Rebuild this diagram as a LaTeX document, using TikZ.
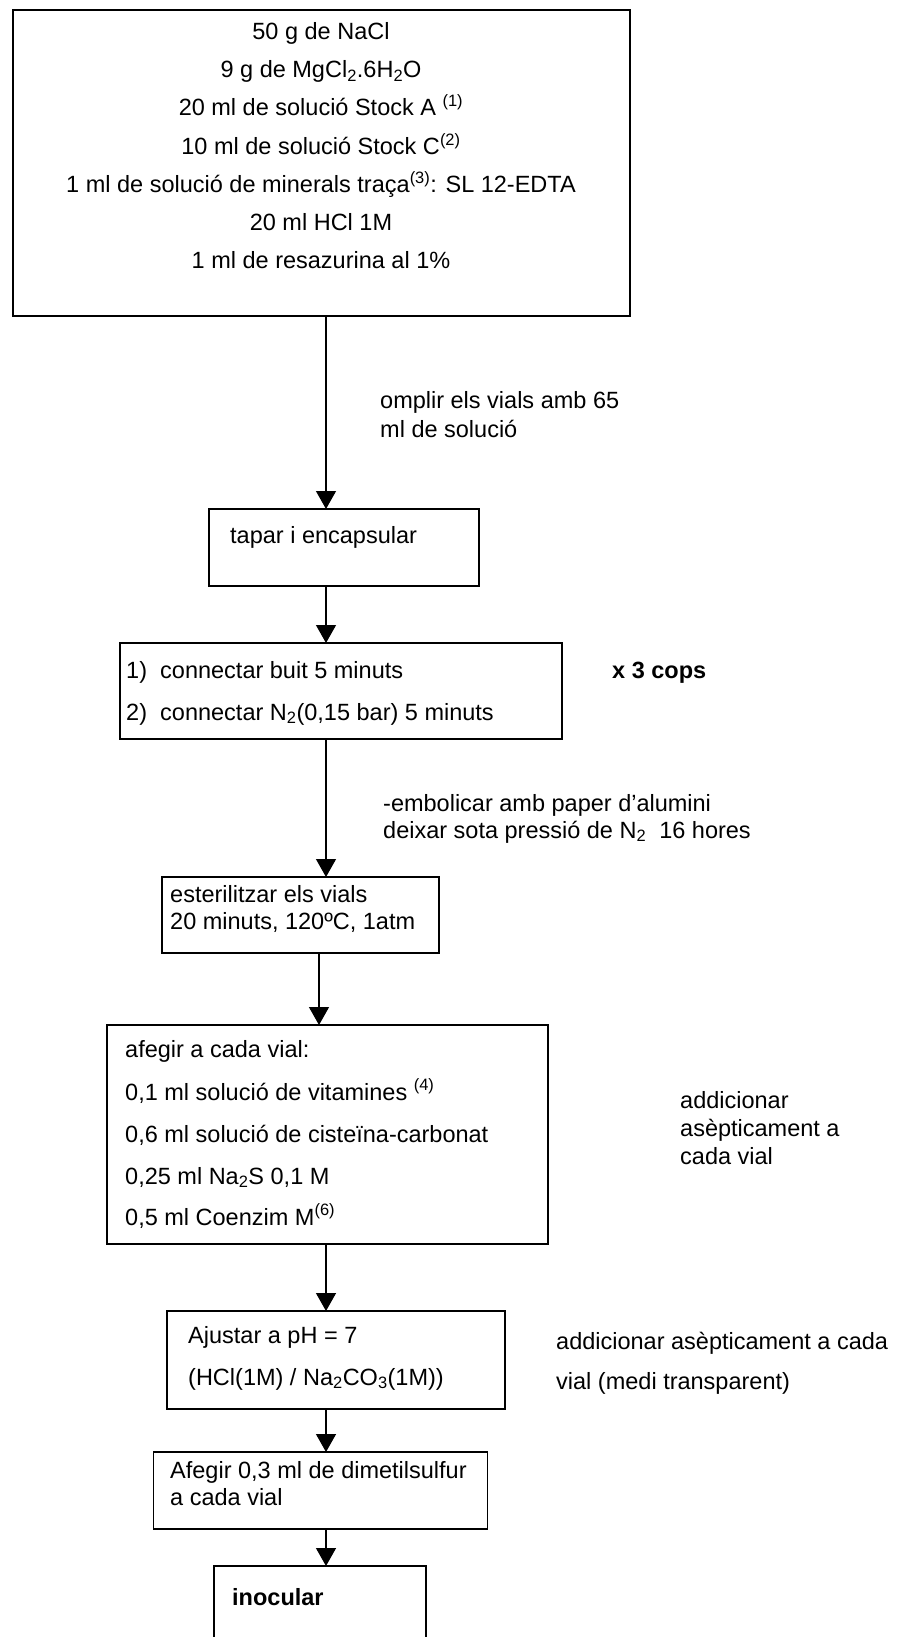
\documentclass[tikz,border=0pt]{standalone}
\usepackage{fontspec}
\setmainfont{Liberation Sans}
\usetikzlibrary{arrows.meta}
\begin{document}
\begin{tikzpicture}[x=1pt,y=-1pt,
  box/.style={draw, line width=1.6pt, inner sep=0pt, outer sep=0pt},
  arr/.style={line width=1.3pt, -{Triangle[length=18pt,width=20pt]}},
  txt/.style={anchor=base west, inner sep=0pt, font=\fontsize{23.5}{27}\selectfont},
  ctxt/.style={anchor=base, inner sep=0pt, font=\fontsize{23.5}{27}\selectfont},
]
\useasboundingbox (0,0) rectangle (905,1637);
\fill[white] (0,0) rectangle (905,1637);
\clip (0,0) rectangle (905,1637);
% boxes
\node[box, minimum width=617pt, minimum height=306pt] (b1) at (321.5,163) {};
\node[box, minimum width=270pt, minimum height=77pt]  (b2) at (344,547.5) {};
\node[box, minimum width=442pt, minimum height=96pt]  (b3) at (341,691) {};
\node[box, minimum width=277pt, minimum height=76pt]  (b4) at (300.5,915) {};
\node[box, minimum width=441pt, minimum height=219pt] (b5) at (327.5,1134.5) {};
\node[box, minimum width=338pt, minimum height=98pt]  (b6) at (336,1360) {};
\node[box, minimum width=334pt, minimum height=77pt]  (b7) at (320.5,1490.5) {};
\node[box, minimum width=212pt, minimum height=109pt] (b8) at (320,1620.5) {};
% arrow axes
\coordinate (ax) at (326,0);
\coordinate (ay) at (319,0);
\draw[arr] (b1.south -| ax) -- (b2.north -| ax);
\draw[arr] (b2.south -| ax) -- (b3.north -| ax);
\draw[arr] (b3.south -| ax) -- (b4.north -| ax);
\draw[arr] (b4.south -| ay) -- (b5.north -| ay);
\draw[arr] (b5.south -| ax) -- (b6.north -| ax);
\draw[arr] (b6.south -| ax) -- (b7.north -| ax);
\draw[arr] (b7.south -| ax) -- (b8.north -| ax);
% box 1 text
\node[ctxt] (l11) at (321,40)  {50 g de NaCl};
\node[ctxt] (l12) at (321,78)  {9 g de MgCl\textsubscript{2}.6H\textsubscript{2}O};
\node[ctxt] (l13) at (321,116) {20 ml de solució Stock A \textsuperscript{(1)}};
\node[ctxt] (l14) at (321,155) {10 ml de solució Stock C\textsuperscript{(2)}};
\node[ctxt] (l15) at (321,193) {1 ml de solució de minerals traça\textsuperscript{(3)}: SL 12-EDTA};
\node[ctxt] (l16) at (321,231) {20 ml HCl 1M};
\node[ctxt] (l17) at (321,269) {1 ml de resazurina al 1\%};
% label 1
\node[txt] (a11) at (380,408) {omplir els vials amb 65};
\node[txt] (a12) at (380,437) {ml de solució};
% box 2
\node[txt] (l21) at (230,543) {tapar i encapsular};
% box 3
\node[txt] (n31) at (126,678) {1)};
\node[txt] (l31) at (160,678) {connectar buit 5 minuts};
\node[txt] (n32) at (126,720) {2)};
\node[txt] (l32) at (160,720) {connectar N\textsubscript{2}(0,15 bar) 5 minuts};
\node[txt, font=\fontsize{23.5}{27}\selectfont\bfseries] (x3) at (612,678) {x 3 cops};
% label 3
\node[txt] (a31) at (383,811) {-embolicar amb paper d’alumini};
\node[txt] (a32) at (383,838) {deixar sota pressió de N\textsubscript{2}\ \ 16 hores};
% box 4
\node[txt] (l41) at (170,902) {esterilitzar els vials};
\node[txt] (l42) at (170,929) {20 minuts, 120ºC, 1atm};
% box 5
\node[txt] (l51) at (125,1057) {afegir a cada vial:};
\node[txt] (l52) at (125,1100) {0,1 ml solució de vitamines \textsuperscript{(4)}};
\node[txt] (l53) at (125,1142) {0,6 ml solució de cisteïna-carbonat};
\node[txt] (l54) at (125,1184) {0,25 ml Na\textsubscript{2}S 0,1 M};
\node[txt] (l55) at (125,1225) {0,5 ml Coenzim M\textsuperscript{(6)}};
% label 5
\node[txt] (a51) at (680,1108) {addicionar};
\node[txt] (a52) at (680,1136) {asèpticament a};
\node[txt] (a53) at (680,1164) {cada vial};
% box 6
\node[txt] (l61) at (188,1343) {Ajustar a pH = 7};
\node[txt] (l62) at (188,1385) {(HCl(1M) / Na\textsubscript{2}CO\textsubscript{3}(1M))};
% label 6
\node[txt] (a61) at (556,1349) {addicionar asèpticament a cada};
\node[txt] (a62) at (556,1389) {vial (medi transparent)};
% box 7
\node[txt] (l71) at (170,1478) {Afegir 0,3 ml de dimetilsulfur};
\node[txt] (l72) at (170,1505) {a cada vial};
% box 8
\node[txt, font=\fontsize{23.5}{27}\selectfont\bfseries] (l81) at (232,1605) {inocular};
\end{tikzpicture}
\end{document}
